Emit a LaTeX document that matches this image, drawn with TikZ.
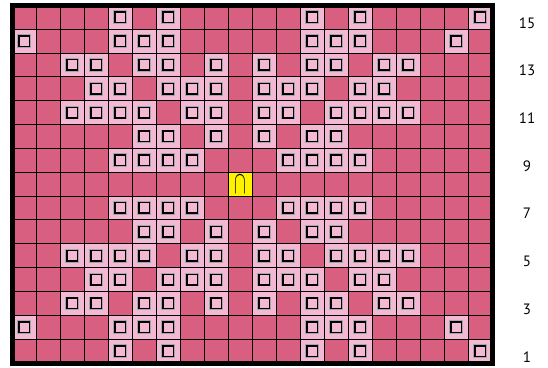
\documentclass[tikz,border=0pt]{standalone}
\usepackage{fontspec}
\setmainfont{PT Sans}
\usepackage{tikz}
\usepackage{graphicx}
\usepackage{xcolor}
\definecolor{rosedark}{RGB}{217,95,128}
\definecolor{roselight}{RGB}{243,184,211}
\definecolor{markyellow}{RGB}{255,242,0}

\begin{document}
\begin{tikzpicture}[x=24pt, y=23.85pt,
  cell/.style={draw=black, line width=0.8pt, minimum width=24pt,
               minimum height=23.85pt, inner sep=0pt, outer sep=0pt},
  darkcell/.style={cell, fill=rosedark},
  lightcell/.style={cell, fill=roselight},
  peg/.style={draw=black, line width=1.5pt, fill=roselight, minimum size=10.5pt,
              inner sep=0pt, preaction={draw=black!35, line width=3.2pt}},
  rowlabel/.style={font=\fontsize{15}{18}\selectfont, inner sep=0pt}]
  \useasboundingbox (-0.5,-0.168) rectangle (22.333,15.22);

  % Board cells
  \foreach \c in {1,...,20}
    \foreach \r in {1,...,15}
      \node[darkcell] (cell-\c-\r) at (\c-0.5,\r-0.5) {};

  % Pegged cells (top half mirrored to bottom half)
  \foreach \r/\rr/\cols in {15/1/{5,7,13,15,20},
                            14/2/{1,5,6,7,13,14,15,19},
                            13/3/{3,4,6,7,9,11,13,14,16,17},
                            12/4/{4,5,7,8,9,11,12,13,15,16},
                            11/5/{3,4,5,6,8,9,11,12,14,15,16,17},
                            10/6/{6,7,9,11,13,14},
                            9/7/{5,6,7,8,12,13,14,15}}
    \foreach \y in {\r,\rr}
      \foreach \c in \cols {
        \node[lightcell] (lt-\c-\y) at (\c-0.5,\y-0.5) {};
        \node[peg] (peg-\c-\y) at (lt-\c-\y) {};
      }

  % Centre cell
  \node[cell, fill=markyellow] (centre) at (9.5,7.5)
    {\scalebox{0.85}[1.55]{\fontsize{22}{22}\selectfont$\cap$}};

  % Frame
  \draw[line width=5pt] (0,0) rectangle (20,15);

  % Row numbers
  \foreach \r in {1,3,...,15}
    \node[rowlabel] (lbl-\r) at (21.46,\r-0.74) {\r};
\end{tikzpicture}
\end{document}
